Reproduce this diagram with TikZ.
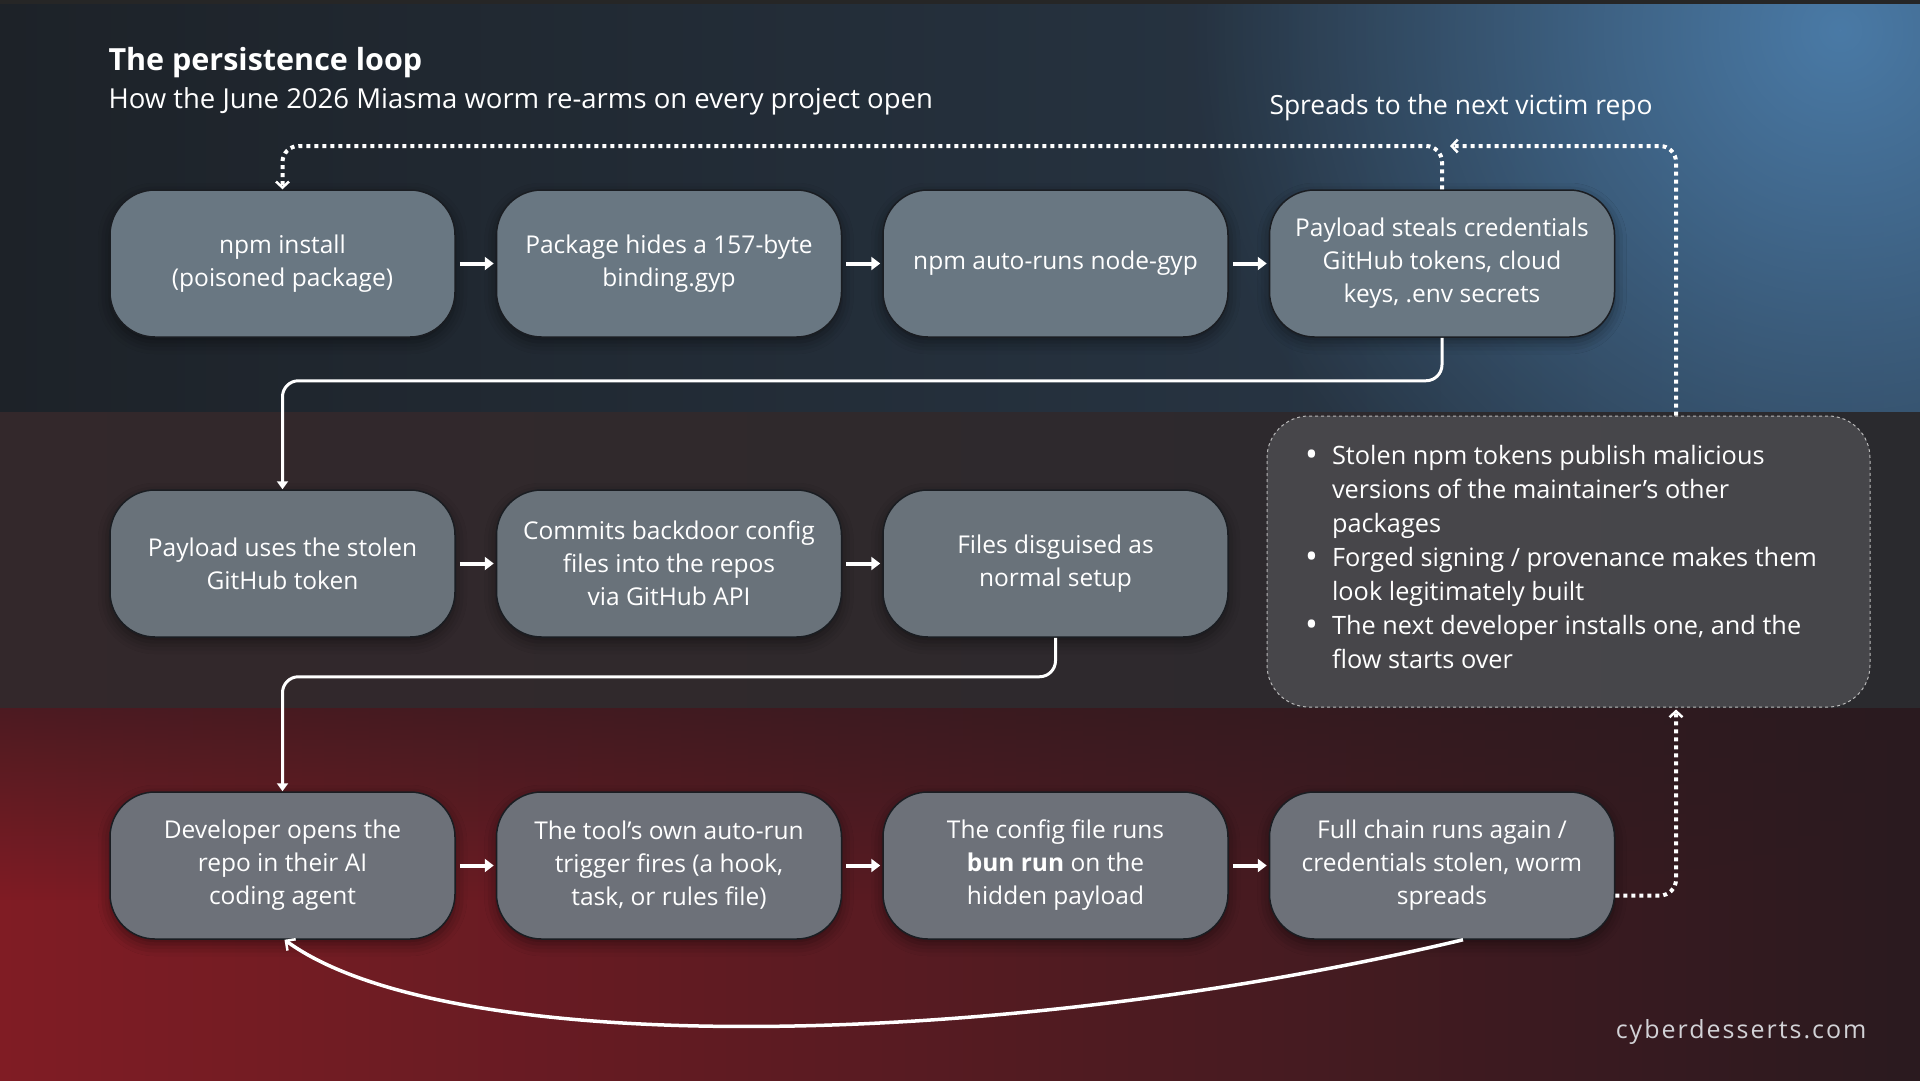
\documentclass[tikz,border=0pt]{standalone}
\usepackage{fontspec}
\setmainfont{Open Sans}
\usetikzlibrary{positioning,arrows.meta,fadings,shadows.blur}
\definecolor{bgTopL}{HTML}{1D2228}
\definecolor{bgTopR}{HTML}{2B3C4E}
\definecolor{bgGlow}{HTML}{4A7AA6}
\definecolor{bgMidL}{HTML}{33282B}
\definecolor{bgMidR}{HTML}{2A2A2E}
\definecolor{bgBotL}{HTML}{801C24}
\definecolor{bgBotR}{HTML}{2A1A1F}
\definecolor{boxTop}{HTML}{697782}
\definecolor{boxMid}{HTML}{69727A}
\definecolor{boxBot}{HTML}{6D7179}
\definecolor{boxLine}{HTML}{1A1D22}
\definecolor{noteFill}{HTML}{4A4A4E}
\definecolor{markGray}{HTML}{D2D2D6}
\tikzfading[name=fuzzyglow, inner color=transparent!0, outer color=transparent!100]
\tikzfading[name=fadedown, top color=transparent!0, bottom color=transparent!100]

\tikzset{
  stepbox/.style={draw=boxLine, line width=1.5pt, fill=#1, rounded corners=45pt,
    minimum width=345pt, minimum height=147pt, inner sep=0pt, align=center,
    text=white, font=\fontsize{24.5}{33}\selectfont,
    blur shadow={shadow xshift=0pt, shadow yshift=-5pt, shadow blur radius=12pt, shadow opacity=45}},
  notebox/.style={draw=gray!55, dashed, line width=1pt, fill=noteFill, fill opacity=0.9,
    rounded corners=42pt, minimum width=603pt, minimum height=291pt},
  flow/.style={white, line width=4pt, -{Triangle[length=9pt,width=13pt]}, shorten <=4pt, shorten >=2pt},
  link/.style={white, line width=3pt, rounded corners=16pt, -{Triangle[length=8pt,width=11pt]}},
  spread/.style={white, line width=4pt, dash pattern=on 4pt off 4pt, rounded corners=16pt,
    -{Straight Barb[length=6pt,width=13pt,line width=2.5pt]}},
  loopback/.style={white, line width=3.5pt, -{Straight Barb[length=7pt,width=14pt,line width=2.5pt]}},
}
\newcommand{\notedot}{\raisebox{-2pt}{\scalebox{1.35}{\textbullet}}}

\begin{document}
\begin{tikzpicture}[x=1pt,y=-1pt]
\useasboundingbox (0,0) rectangle (1920,1080);
% background bands
\shade[left color=bgTopL, right color=bgTopR] (0,0) rectangle (1920,412);
\begin{scope}
\clip (0,0) rectangle (1920,412);
\fill[bgGlow, path fading=fuzzyglow] (1840,30) circle (650pt);
\end{scope}
\fill[black!85] (0,0) rectangle (1920,4);
\shade[left color=bgMidL, right color=bgMidR] (0,412) rectangle (1920,708);
\shade[left color=bgBotL, right color=bgBotR] (0,708) rectangle (1920,1080);
\fill[bgBotR, path fading=fadedown, opacity=0.6] (0,708) rectangle (1920,900);

% titles
\node[anchor=base west, text=white, font=\bfseries\fontsize{30.5}{36}\selectfont] (title) at (105,70) {The persistence loop};
\node[anchor=base west, text=white, font=\fontsize{27.5}{32}\selectfont] (subtitle) at (105,108) {How the June 2026 Miasma worm re-arms on every project open};
\node[anchor=base, text=white, font=\fontsize{26.4}{30}\selectfont] (spreadlabel) at (1461,114) {Spreads to the next victim repo};

% note box
\node[notebox] (notes) at (1568.5,561.5) {};
\node[anchor=north west, inner sep=0pt, text=white, font=\fontsize{25.3}{34}\selectfont] (bullets) at (1305,440)
  {\begin{tabular}{@{}l@{\hspace{14pt}}l@{}}
   \notedot & Stolen npm tokens publish malicious\\
            & versions of the maintainer's other\\
            & packages\\
   \notedot & Forged signing / provenance makes them\\
            & look legitimately built\\
   \notedot & The next developer installs one, and the\\
            & flow starts over
   \end{tabular}};

% row 1
\node[stepbox=boxTop] (install) at (282.5,263.5) {npm install\\(poisoned package)};
\node[stepbox=boxTop, right=40pt of install] (hides) {Package hides a 157-byte\\binding.gyp};
\node[stepbox=boxTop, right=40pt of hides] (autorun) {npm auto-runs node-gyp};
\node[stepbox=boxTop, right=40pt of autorun] (creds) {Payload steals credentials\\GitHub tokens, cloud\\keys, .env secrets};
% row 2
\node[stepbox=boxMid] (usetoken) at (282.5,563.5) {Payload uses the stolen\\GitHub token};
\node[stepbox=boxMid, right=40pt of usetoken] (commits) {Commits backdoor config\\files into the repos\\via GitHub API};
\node[stepbox=boxMid, right=40pt of commits] (disguised) {Files disguised as\\normal setup};
% row 3
\node[stepbox=boxBot] (devopens) at (282.5,865.5) {Developer opens the\\repo in their AI\\coding agent};
\node[stepbox=boxBot, right=40pt of devopens] (trigger) {The tool's own auto-run\\trigger fires (a hook,\\task, or rules file)};
\node[stepbox=boxBot, right=40pt of trigger] (bunrun) {The config file runs\\\textbf{bun run} on the\\hidden payload};
\node[stepbox=boxBot, right=40pt of bunrun] (fullchain) {Full chain runs again /\\credentials stolen, worm\\spreads};

% connectors
\draw[flow] (install) -- (hides);
\draw[flow] (hides) -- (autorun);
\draw[flow] (autorun) -- (creds);
\draw[flow] (usetoken) -- (commits);
\draw[flow] (commits) -- (disguised);
\draw[flow] (devopens) -- (trigger);
\draw[flow] (trigger) -- (bunrun);
\draw[flow] (bunrun) -- (fullchain);

\draw[link] (creds.south) -- ++(0,43) -| (usetoken.north);
\draw[link] (disguised.south) -- ++(0,39) -| (devopens.north);

\coordinate (toprow) at (0,146);
\coordinate (spreadx) at (1676,0);
\draw[spread] (creds.north) |- (install.north |- toprow) -- (install.north);
\draw[spread] (notes.north -| spreadx) |- ([xshift=8pt]creds.north |- toprow);
\draw[spread, shorten >=2pt] ([yshift=-30pt]fullchain.east) -| (notes.south -| spreadx);

\draw[loopback] ([xshift=21pt]fullchain.south) .. controls (1000,1050) and (450,1060) .. ([xshift=2pt]devopens.south);

\node[anchor=base east, text=markGray, font=\addfontfeatures{LetterSpace=8}\fontsize{25}{30}\selectfont] (mark) at (1870,1038) {cyberdesserts.com};
\end{tikzpicture}
\end{document}
